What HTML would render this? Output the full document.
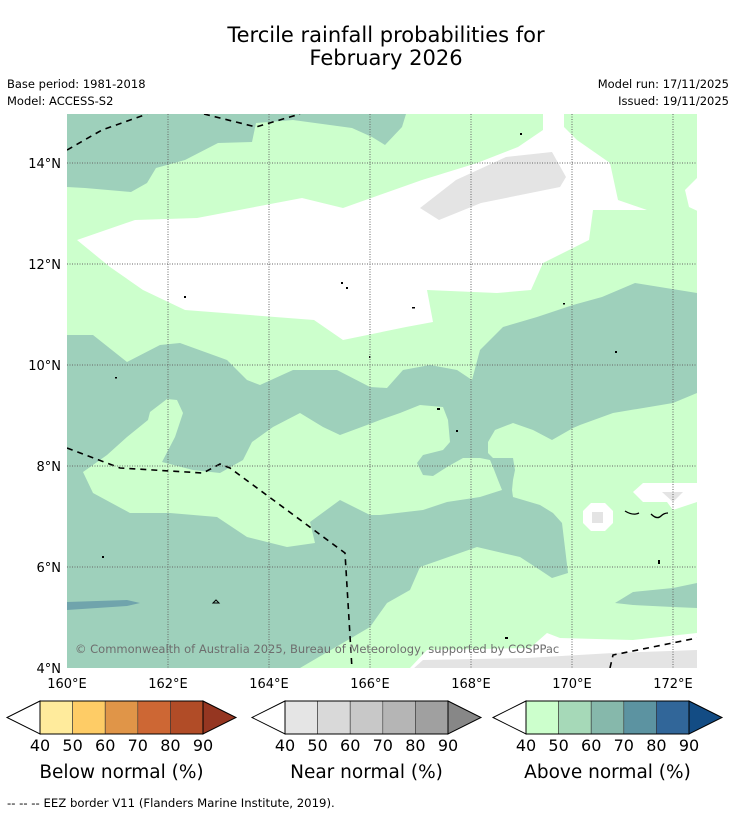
<!DOCTYPE html>
<html><head><meta charset="utf-8"><style>
body{margin:0;background:#fff;width:736px;height:816px;overflow:hidden;font-family:"DejaVu Sans",sans-serif}
svg{position:absolute;left:0;top:0}
</style></head><body>
<svg width="736" height="816" xmlns="http://www.w3.org/2000/svg" font-family="'DejaVu Sans', sans-serif" id="root">
<text x="386" y="42" font-size="21" text-anchor="middle">Tercile rainfall probabilities for</text>
<text x="386" y="65" font-size="21" text-anchor="middle">February 2026</text>
<text x="7" y="88" font-size="11.5">Base period: 1981-2018</text>
<text x="7" y="105" font-size="11.5">Model: ACCESS-S2</text>
<text x="729" y="88" font-size="11.5" text-anchor="end">Model run: 17/11/2025</text>
<text x="729" y="105" font-size="11.5" text-anchor="end">Issued: 19/11/2025</text>

<g>
<clipPath id="mc"><rect x="67" y="114" width="630" height="554"/></clipPath>
<g clip-path="url(#mc)">
<rect x="67" y="114" width="630" height="554" fill="#ccffcc"/>
<polygon fill="#9ed0bb" points="67,114 406,114 402,127 385,145 372,137 352,128 293,120 256,123 252,142 218,143 185,160 156,168 147,183 131,192 85,188 67,187"/>
<polygon fill="#ffffff" points="77,240 135,220 197,218 302,198 343,208 422,180 477,163 518,147 543,130 543,114 564,114 564,127 577,140 610,163 618,200 647,210 593,210 589,240 543,263 531,290 497,293 427,290 433,322 406,327 343,340 314,320 185,310 143,290 110,267"/>
<polygon fill="#ffffff" points="702,173 685,190 689,207 702,213"/>
<polygon fill="#e4e4e4" points="420,208 456,180 506,157 552,152 566,177 560,187 481,203 439,220"/>
<polygon fill="#9ed0bb" points="67,335 93,335 127,362 160,345 180,343 227,360 247,380 260,385 293,370 337,370 370,387 387,388 403,370 430,365 457,370 472,380 480,350 503,327 537,317 573,305 602,297 635,283 697,293 697,393 673,403 613,413 580,425 573,428 552,440 533,430 513,423 495,430 488,442 488,453 493,458 513,458 515,470 513,480 512,490 513,497 540,505 553,513 562,523 568,573 552,578 540,570 520,557 477,547 420,567 410,590 387,603 370,627 353,637 300,668 67,668"/>
<polygon fill="#ccffcc" points="167,399 177,400 183,413 175,437 162,462 193,470 220,473 243,460 252,442 273,427 300,413 323,427 340,435 367,425 380,420 400,413 420,405 443,407 448,420 450,442 443,450 423,455 417,463 423,475 433,476 447,467 463,458 480,458 490,460 493,467 498,480 502,490 480,497 447,502 423,510 380,515 370,515 340,500 310,522 315,543 287,547 247,537 217,517 170,513 130,513 93,493 83,472 107,455 127,437 148,420 150,412"/>
<polygon fill="#70a4ac" points="67,602 127,600 140,603 127,606 67,610"/>
<polygon fill="#9ed0bb" points="615,603 633,592 673,588 697,583 697,608 673,607 633,605"/>
<polygon fill="#ffffff" points="410,668 427,650 530,648 547,633 560,638 633,640 697,633 697,668"/>
<polygon fill="#e4e4e4" points="413,669 423,660 527,658 613,653 697,650 697,669"/>
<polygon fill="#ffffff" points="591,503 605,503 613,511 613,523 605,531 591,531 583,523 583,511"/>
<rect x="592" y="512" width="11" height="11" fill="#e4e4e4"/>
<polygon fill="#ffffff" points="633,492 643,483 697,483 697,502 673,510 667,502 643,502"/>
<polygon fill="#e4e4e4" points="662,492 683,492 673,502"/>
<g stroke="#000" stroke-width="1.6" fill="none" stroke-dasharray="6,5">
<polyline points="67,150 102,130 147,114"/>
<polyline points="204,114 256,127 300,114"/>
<polyline points="67,448 120,468 203,473 220,464 230,468 345,553 352,669"/>
<polyline points="610,668 613,655 697,638"/>
</g>
<g fill="#000">
<rect x="184" y="296" width="2" height="2"/><rect x="341" y="282" width="2" height="2"/><rect x="346" y="287" width="2" height="2"/><rect x="412" y="307" width="3" height="1.5"/><rect x="369" y="356" width="1.5" height="2"/><rect x="115" y="377" width="2" height="1.5"/><rect x="520" y="133" width="2" height="2"/><rect x="563" y="303" width="2" height="1.5"/><rect x="615" y="351" width="2" height="2"/><rect x="437" y="408" width="3" height="2"/><rect x="456" y="430" width="2" height="2"/><rect x="102" y="556" width="2" height="2"/><rect x="505" y="637" width="3" height="2"/><rect x="658" y="560" width="2" height="4"/>
</g>
<path d="M625,511 q8,5 14,2 M651,514 q6,6 10,2 q3,-3 7,-3" stroke="#000" stroke-width="1.3" fill="none"/>
<path d="M213,603 l3,-3 l3,3 z" stroke="#000" stroke-width="1" fill="none"/>
</g>
<g stroke="#666" stroke-width="1" stroke-dasharray="1,1.5" id="grid"></g>
<text x="75" y="653" font-size="11.5" fill="#6e6e6e">© Commonwealth of Australia 2025, Bureau of Meteorology, supported by COSPPac</text>
</g>
<g id="axes"></g>
<g id="cbars"></g>
<text x="7" y="807" font-size="11.7">--  --  -- EEZ border V11 (Flanders Marine Institute, 2019).</text>
</svg>
<script>
const lonTicks=[160,162,164,166,168,170,172];
const latTicks=[4,6,8,10,12,14];
const cbTicks=[40,50,60,70,80,90];
const belowColors=["#ffeb9c","#fecc66","#e09548","#cd6734","#b14c27"];
const nearColors=["#e5e5e5","#d9d9d9","#c8c8c8","#b5b5b5","#a0a0a0"];
const aboveColors=["#ccffcc","#a6d9b8","#86b8ab","#5c93a1","#316699"];
const tipColors=["#953621","#878787","#134c84"];
const cbTitles=["Below normal (%)","Near normal (%)","Above normal (%)"];
const NS="http://www.w3.org/2000/svg";
const lonX=v=>67+(v-160)*50.5, latY=v=>668-(v-4)*50.5;
function mk(tag,attrs,parent){const e=document.createElementNS(NS,tag);for(const k in attrs)e.setAttribute(k,attrs[k]);parent.appendChild(e);return e;}
const grid=document.getElementById('grid'),axes=document.getElementById('axes'),cb=document.getElementById('cbars');
lonTicks.forEach(v=>{if(v>160){const l=mk('line',{x1:lonX(v),x2:lonX(v),y1:114,y2:668},grid);

}
const t=mk('text',{x:lonX(v),y:688,'font-size':13,'text-anchor':'middle'},axes);t.textContent=v+'°E';

});
latTicks.forEach(v=>{if(v>4){const l=mk('line',{x1:67,x2:697,y1:latY(v),y2:latY(v)},grid);

}
const t=mk('text',{x:61,y:latY(v)+5,'font-size':13,'text-anchor':'end'},axes);t.textContent=v+'°N';

});
const sets=[belowColors,nearColors,aboveColors],starts=[40,285,526],w=32.6;
sets.forEach((cols,i)=>{const x0=starts[i],top=701,bot=734,mid=717.5,end=x0+w*5;
const g=mk('g',{},cb);


mk('polygon',{points:`${x0},${top} ${x0-33},${mid} ${x0},${bot}`,fill:'#fff',stroke:'#000','stroke-width':1},g);
cols.forEach((c,j)=>{const r=mk('rect',{x:x0+j*w,y:top,width:w,height:bot-top,fill:c,stroke:'#333','stroke-width':0.6},g);

});
mk('polygon',{points:`${end},${top} ${end+33},${mid} ${end},${bot}`,fill:tipColors[i],stroke:'#000','stroke-width':1},g);
mk('rect',{x:x0,y:top,width:w*5,height:bot-top,fill:'none',stroke:'#000','stroke-width':1},g);
cbTicks.forEach((t,j)=>{const tx=mk('text',{x:x0+j*w,y:751,'font-size':16,'text-anchor':'middle'},g);tx.textContent=t;

});
const tt=mk('text',{x:x0+w*2.5,y:778,'font-size':18.5,'text-anchor':'middle'},g);tt.textContent=cbTitles[i];

});
</script>
</body></html>
